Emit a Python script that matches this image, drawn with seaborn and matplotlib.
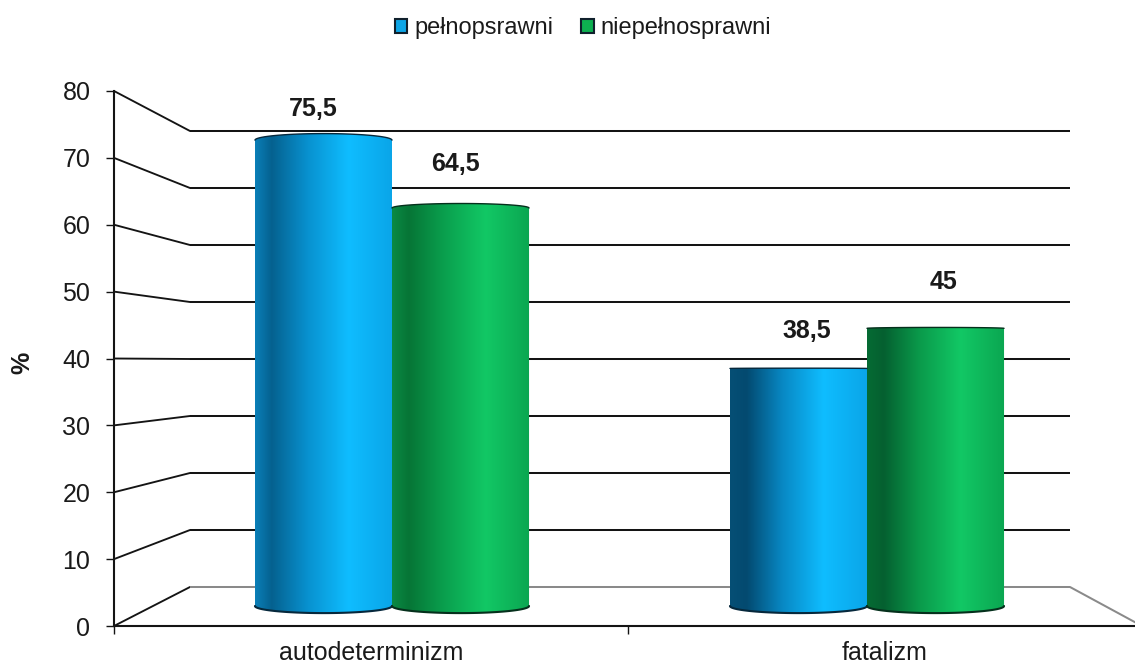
import numpy as np
import pandas as pd
import matplotlib
matplotlib.use('Agg')
import matplotlib.pyplot as plt
import seaborn as sns
from matplotlib.colors import LinearSegmentedColormap
from matplotlib.patches import ConnectionPatch, PathPatch
from matplotlib.path import Path

categories = ['autodeterminizm', 'fatalizm']
groups = ['pełnopsrawni', 'niepełnosprawni']
pelnosprawni = [75.5, 38.5]
niepelnosprawni = [64.5, 45]
y_ticks = [0, 10, 20, 30, 40, 50, 60, 70, 80]
# przesuniecia opisow wartosci w px (x, y), kolejno jak walce
label_offsets = [(-10, 31), (8, 37), (-5, 44), (8, 46)]

W, H = 1135, 666
INK = '#141414'


def box(left, right, top, bottom):
    # pixel box -> figure fraction
    return [left / W, 1 - bottom / H, (right - left) / W, (bottom - top) / H]


def shade(name, edge, dark, mid, bright, right):
    return LinearSegmentedColormap.from_list(name, [(0, edge), (0.12, dark), (0.38, mid),
                                                    (0.68, bright), (1, right)])


df = pd.DataFrame({
    'kategoria': categories * 2,
    'grupa': [groups[0]] * 2 + [groups[1]] * 2,
    'wartosc': pelnosprawni + niepelnosprawni,
})

sns.set_theme(style='white')
plt.rcParams['font.family'] = ['Liberation Sans', 'DejaVu Sans']
plt.rcParams['text.color'] = '#1a1a1a'

fig = plt.figure(figsize=(W / 100, H / 100), dpi=100, facecolor='white')

# tylna sciana
back = fig.add_axes(box(190, 1070, 131, 587), zorder=1)
back.set_xlim(0, 1)
back.set_ylim(0, 80)
back.axis('off')

# przednia os z opisami
front = fig.add_axes(box(114, 1142, 91, 626), zorder=2)
front.patch.set_alpha(0)
front.set_xlim(0, 2)
front.set_ylim(0, 80)
front.set_yticks(y_ticks)
front.set_xticks([0, 1, 2])
front.set_xticklabels([])
front.set_xticks([0.5, 1.5], categories, minor=True)
front.tick_params(axis='x', which='minor', bottom=False, length=0, labelsize=18, pad=10.5, labelcolor='#1a1a1a')
front.tick_params(axis='x', which='major', bottom=True, length=6, width=1.0, color=INK)
front.tick_params(axis='y', left=True, length=6, width=1.0, color=INK, labelsize=18, pad=11, labelcolor='#1a1a1a')
sns.despine(ax=front, right=True, top=True)
for s in ['left', 'bottom']:
    front.spines[s].set_linewidth(1.5)
    front.spines[s].set_color(INK)
fig.text(22 / W, 1 - 363 / H, '%', rotation=90, fontsize=18, fontweight='bold', ha='center', va='center')

for v in y_ticks:
    col = '#8a8a8a' if v == 0 else INK
    back.plot([0, 1], [v, v], color=col, lw=1.45, solid_capstyle='butt', clip_on=False)
    left_link = ConnectionPatch(xyA=(0, v), coordsA=front.get_yaxis_transform(),
                                xyB=(0, v), coordsB=back.get_yaxis_transform(),
                                color=INK, lw=1.35, zorder=0.5)
    fig.add_artist(left_link)
right_link = ConnectionPatch(xyA=(1, 0), coordsA=front.get_yaxis_transform(),
                             xyB=(1, 0), coordsB=back.get_yaxis_transform(),
                             color='#8a8a8a', lw=1.45, zorder=0.5)
fig.add_artist(right_link)

# walce
ax = fig.add_axes(box(154.5, 1104.5, 606 - 6.17 * 80, 606 + 6.17 * 5), zorder=3)
ax.patch.set_alpha(0)
sns.barplot(data=df, x='kategoria', y='wartosc', hue='grupa', hue_order=groups, order=categories,
            palette=['#0DA5E6', '#0DB050'], saturation=1, width=0.577, gap=0, ax=ax, linewidth=0,
            legend=False)

cmaps = [
    [shade('b1', '#0A7FB8', '#05618F', '#0891CF', '#0FBDFF', '#0AA5E8'),
     shade('b2', '#064F75', '#034A70', '#0888C4', '#0FBDFF', '#0AA5E8')],
    [shade('g1', '#0A8A44', '#067536', '#0AA04E', '#12C865', '#0BA651'),
     shade('g2', '#066B34', '#056030', '#0A9A4B', '#12C865', '#0BA651')],
]
edges = ['#06283C', '#05301C']
grad = np.linspace(0, 1, 256).reshape(1, -1)
t = np.linspace(0, np.pi, 60)
CAP_BOTTOM = 1.15

k = 0
for c, container in enumerate(ax.containers):
    for b, bar in enumerate(container):
        x0, w, h = bar.get_x(), bar.get_width(), bar.get_height()
        xm = x0 + w / 2
        # perspektywa: gorna elipsa splaszcza sie na wysokosci oka
        cap = abs(h - 40) * 0.03
        top_x = xm - np.cos(t) * w / 2
        top_y = h + np.sin(t) * cap
        bot_x = xm + np.cos(t) * w / 2
        bot_y = -np.sin(t) * CAP_BOTTOM
        verts = np.r_[np.c_[top_x, top_y], np.c_[bot_x, bot_y], [[top_x[0], top_y[0]]]]
        clip = PathPatch(Path(verts), fc='none', ec='none', transform=ax.transData, zorder=2)
        ax.add_patch(clip)
        im = ax.imshow(grad, cmap=cmaps[c][b], aspect='auto', extent=(x0, x0 + w, -2, h + 2), zorder=3)
        im.set_clip_path(clip)
        ax.plot(top_x, top_y, color=edges[c], lw=1.0, zorder=4)
        ax.plot(bot_x, bot_y, color=edges[c], lw=1.5, zorder=4)
        dx, dy = label_offsets[k]
        ax.annotate(f'{h:g}'.replace('.', ','), (xm, h), xytext=(dx * 0.72, dy * 0.72),
                    textcoords='offset points', ha='center', va='center',
                    fontsize=18, fontweight='bold')
        k += 1

ax.set_xlim(-0.5, 1.5)
ax.set_ylim(-5, 80)
ax.axis('off')

handles = [c.patches[0] for c in ax.containers]
leg = fig.legend(handles, groups, loc='center', bbox_to_anchor=(583 / W, 1 - 28 / H), ncol=2,
                 frameon=False, fontsize=17, handlelength=0.52, handleheight=0.52,
                 handletextpad=0.3, columnspacing=1.2, borderpad=0, borderaxespad=0)
for p in leg.get_patches():
    p.set_edgecolor('#10202c')
    p.set_linewidth(1.5)

fig.savefig('out.png', dpi=100)
